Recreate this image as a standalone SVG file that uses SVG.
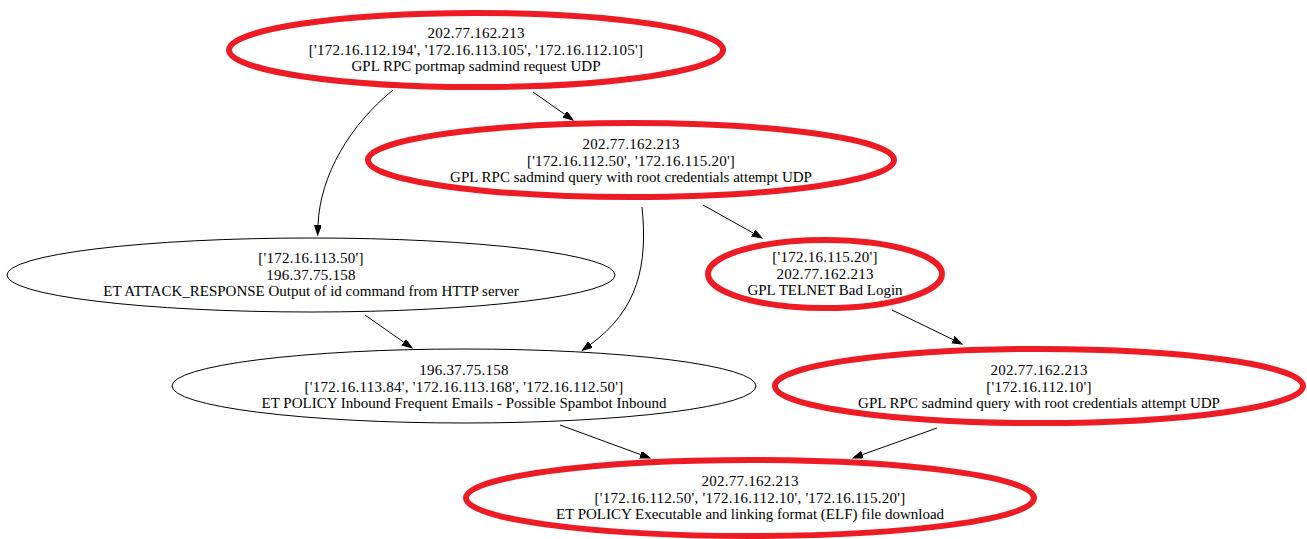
<svg xmlns="http://www.w3.org/2000/svg" width="1307" height="539" viewBox="0 0 1307 539">
  <style>
    .bg { fill: #ffffff; }
    .edge { fill: none; stroke: #000000; stroke-width: 1; }
    .hot { fill: none; stroke: #ed1c24; stroke-width: 6; }
    .plain { fill: none; stroke: #000000; stroke-width: 1; }
    text { font-family: "Liberation Serif", "Times New Roman", serif; font-size: 15px; fill: #000000; text-anchor: middle; }
    text.ip { letter-spacing: 0.25px; }
  </style>
  <defs>
    <marker id="arrow" markerUnits="userSpaceOnUse" markerWidth="12" markerHeight="8" refX="0" refY="3.5" orient="auto">
      <polygon points="0,0 10,3.5 0,7" fill="#000000" stroke="#000000" stroke-width="1"/>
    </marker>
  </defs>
  <rect class="bg" x="0" y="0" width="1307" height="539"/>

  <g id="edges">
    <path class="edge" marker-end="url(#arrow)" d="M393,90 C350,125 320,175 318,225"/>
    <path class="edge" marker-end="url(#arrow)" d="M533,92 L564.8,114.3"/>
    <path class="edge" marker-end="url(#arrow)" d="M642,207 C648,265 638,310 590.5,344.4"/>
    <path class="edge" marker-end="url(#arrow)" d="M703,205 L753.3,233.1"/>
    <path class="edge" marker-end="url(#arrow)" d="M365,315 L403.8,342.2"/>
    <path class="edge" marker-end="url(#arrow)" d="M892,310 L953,339.6"/>
    <path class="edge" marker-end="url(#arrow)" d="M560,425 L640.6,454.6"/>
    <path class="edge" marker-end="url(#arrow)" d="M937,428 L862.4,454.6"/>
  </g>

  <g id="node-portmap">
    <ellipse class="hot" cx="476" cy="50" rx="247" ry="37"/>
    <text class="ip" x="476" y="38">202.77.162.213</text>
    <text class="ip" x="476" y="54.5">['172.16.112.194', '172.16.113.105', '172.16.112.105']</text>
    <text x="476" y="71">GPL RPC portmap sadmind request UDP</text>
  </g>

  <g id="node-sadmind-root">
    <ellipse class="hot" cx="631" cy="160" rx="263" ry="37"/>
    <text class="ip" x="631" y="149">202.77.162.213</text>
    <text class="ip" x="631" y="165.5">['172.16.112.50', '172.16.115.20']</text>
    <text x="631" y="182">GPL RPC sadmind query with root credentials attempt UDP</text>
  </g>

  <g id="node-attack-response">
    <ellipse class="plain" cx="311" cy="275" rx="304" ry="37"/>
    <text class="ip" x="311" y="263">['172.16.113.50']</text>
    <text class="ip" x="311" y="279.5">196.37.75.158</text>
    <text x="311" y="296">ET ATTACK_RESPONSE Output of id command from HTTP server</text>
  </g>

  <g id="node-telnet">
    <ellipse class="hot" cx="825" cy="274" rx="117" ry="34"/>
    <text class="ip" x="825" y="262">['172.16.115.20']</text>
    <text class="ip" x="825" y="278.5">202.77.162.213</text>
    <text x="825" y="295">GPL TELNET Bad Login</text>
  </g>

  <g id="node-spambot">
    <ellipse class="plain" cx="464" cy="386" rx="292" ry="37"/>
    <text class="ip" x="464" y="375">196.37.75.158</text>
    <text class="ip" x="464" y="391.5">['172.16.113.84', '172.16.113.168', '172.16.112.50']</text>
    <text x="464" y="408">ET POLICY Inbound Frequent Emails - Possible Spambot Inbound</text>
  </g>

  <g id="node-sadmind-10">
    <ellipse class="hot" cx="1039" cy="386" rx="264" ry="37"/>
    <text class="ip" x="1039" y="375">202.77.162.213</text>
    <text class="ip" x="1039" y="391.5">['172.16.112.10']</text>
    <text x="1039" y="408">GPL RPC sadmind query with root credentials attempt UDP</text>
  </g>

  <g id="node-elf">
    <ellipse class="hot" cx="750" cy="498" rx="284" ry="38"/>
    <text class="ip" x="750" y="486">202.77.162.213</text>
    <text class="ip" x="750" y="502.5">['172.16.112.50', '172.16.112.10', '172.16.115.20']</text>
    <text x="750" y="519">ET POLICY Executable and linking format (ELF) file download</text>
  </g>
</svg>
